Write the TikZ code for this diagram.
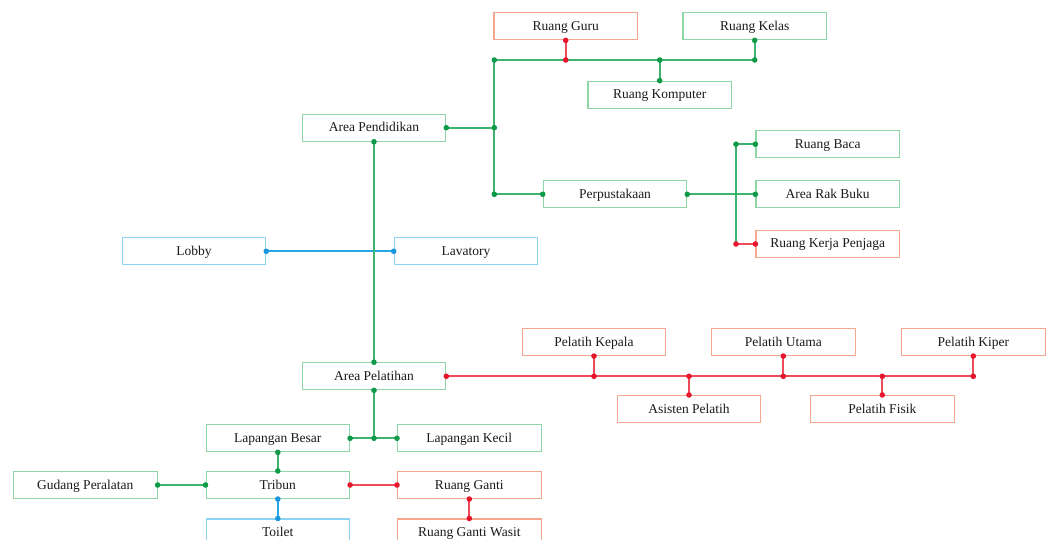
\documentclass[tikz,border=0pt]{standalone}
\usepackage{fontspec}
\setmainfont{Liberation Serif}

\definecolor{gbord}{HTML}{8ED6A6}
\definecolor{glinec}{HTML}{3CB46E}
\definecolor{gdotc}{HTML}{0E9A48}
\definecolor{rbord}{HTML}{F5A68E}
\definecolor{rlinec}{HTML}{EE4B5B}
\definecolor{rdotc}{HTML}{E5162E}
\definecolor{bbord}{HTML}{8FD3F4}
\definecolor{blinec}{HTML}{27A6E6}
\definecolor{bdotc}{HTML}{1B98DD}
\definecolor{txt}{HTML}{1A1A1A}

\tikzset{
  room/.style={draw, fill=white, line width=1.1pt, minimum width=143.5pt,
    minimum height=27pt, inner sep=0pt, text=txt, text height=10pt,
    text depth=2pt, font=\fontsize{13.5}{15}\selectfont},
  groom/.style={room, draw=gbord},
  rroom/.style={room, draw=rbord},
  broom/.style={room, draw=bbord},
  gwire/.style={draw=glinec, line width=1.9pt},
  rwire/.style={draw=rlinec, line width=1.9pt},
  bwire/.style={draw=blinec, line width=1.9pt},
}

\begin{document}
\begin{tikzpicture}[x=1pt, y=-1pt]
\useasboundingbox (0,0) rectangle (1053,540);
\clip (0,0) rectangle (1053,540);

% ---------- rooms ----------
\node[rroom] (guru)    at (565.7,26.3)  {Ruang Guru};
\node[groom] (kelas)   at (754.7,26.3)  {Ruang Kelas};
\node[groom] (komp)    at (659.7,94.7)  {Ruang Komputer};
\node[groom] (pend)    at (374,127.7)   {Area Pendidikan};
\node[groom] (perp)    at (615,194.3)   {Perpustakaan};
\node[groom] (baca)    at (827.7,144.2) {Ruang Baca};
\node[groom] (rak)     at (827.7,194.3) {Area Rak Buku};
\node[rroom] (kerja)   at (827.7,244)   {Ruang Kerja Penjaga};
\node[broom] (lobby)   at (194,251.3)   {Lobby};
\node[broom] (lav)     at (466,251.3)   {Lavatory};
\node[groom] (pel)     at (374,376.3)   {Area Pelatihan};
\node[rroom] (kepala)  at (594,342)     {Pelatih Kepala};
\node[rroom] (utama)   at (783.3,342)   {Pelatih Utama};
\node[rroom] (kiper)   at (973.3,342)   {Pelatih Kiper};
\node[rroom] (asisten) at (689,409)     {Asisten Pelatih};
\node[rroom] (fisik)   at (882.3,409)   {Pelatih Fisik};
\node[groom] (besar)   at (277.8,438.3) {Lapangan Besar};
\node[groom] (kecil)   at (469.3,438.3) {Lapangan Kecil};
\node[groom] (tribun)  at (277.8,485)   {Tribun};
\node[groom] (gudang)  at (85.3,485)    {Gudang Peralatan};
\node[rroom] (ganti)   at (469.3,485)   {Ruang Ganti};
\node[broom] (toilet)  at (277.8,532.5) {Toilet};
\node[rroom] (wasit)   at (469.3,532.5) {Ruang Ganti Wasit};

% ---------- junction points ----------
\coordinate (eTop) at (494.3,60);
\coordinate (eMid) at (494.3,127.7);
\coordinate (eBot) at (494.3,194.3);
\coordinate (guruJ) at (guru.south |- eTop);
\coordinate (kompJ) at (komp.north |- eTop);
\coordinate (kelasJ) at (kelas.south |- eTop);
\coordinate (lTop) at (736,144.2);
\coordinate (lBot) at (736,244);
\coordinate (kepalaJ) at (kepala.south |- pel.east);
\coordinate (asistenJ) at (asisten.north |- pel.east);
\coordinate (utamaJ) at (utama.south |- pel.east);
\coordinate (fisikJ) at (fisik.north |- pel.east);
\coordinate (kiperJ) at (kiper.south |- pel.east);
\coordinate (lapJ) at (pel.south |- besar.east);

% ---------- connectors ----------
\path[bwire] (lobby.east) -- (lav.west);

\path[gwire] (pend.east) -- (eMid);
\path[gwire] (eTop) -- (eBot);
\path[gwire] (eTop) -- (kelasJ) -- (kelas.south);
\path[gwire] (komp.north) -- (kompJ);
\path[rwire] (guru.south) -- (guruJ);
\path[gwire] (eBot) -- (perp.west);
\path[gwire] (perp.east) -- (rak.west);
\path[gwire] (lTop) -- (lBot);
\path[gwire] (lTop) -- (baca.west);
\path[rwire] (lBot) -- (kerja.west);

\path[gwire] (pend.south) -- (pel.north);

\path[rwire] (pel.east) -- (kiperJ) -- (kiper.south);
\path[rwire] (kepala.south) -- (kepalaJ);
\path[rwire] (utama.south) -- (utamaJ);
\path[rwire] (asisten.north) -- (asistenJ);
\path[rwire] (fisik.north) -- (fisikJ);

\path[gwire] (pel.south) -- (lapJ);
\path[gwire] (besar.east) -- (kecil.west);
\path[gwire] (besar.south) -- (tribun.north);
\path[gwire] (gudang.east) -- (tribun.west);
\path[rwire] (tribun.east) -- (ganti.west);
\path[bwire] (tribun.south) -- (toilet.north);
\path[rwire] (ganti.south) -- (wasit.north);

% ---------- connection dots ----------
\foreach \p in {eTop, eMid, eBot, pend.east, kompJ, komp.north, kelasJ, kelas.south,
  perp.west, perp.east, rak.west, lTop, baca.west, pend.south, pel.north,
  pel.south, lapJ, besar.east, kecil.west, besar.south, tribun.north,
  gudang.east, tribun.west}
  \fill[gdotc] (\p) circle (2.8pt);
\foreach \p in {guru.south, guruJ, lBot, kerja.west, pel.east, kepalaJ, kepala.south,
  asistenJ, asisten.north, utamaJ, utama.south, fisikJ, fisik.north, kiperJ,
  kiper.south, tribun.east, ganti.west, ganti.south, wasit.north}
  \fill[rdotc] (\p) circle (2.8pt);
\foreach \p in {lobby.east, lav.west, tribun.south, toilet.north}
  \fill[bdotc] (\p) circle (2.8pt);
\end{tikzpicture}
\end{document}
